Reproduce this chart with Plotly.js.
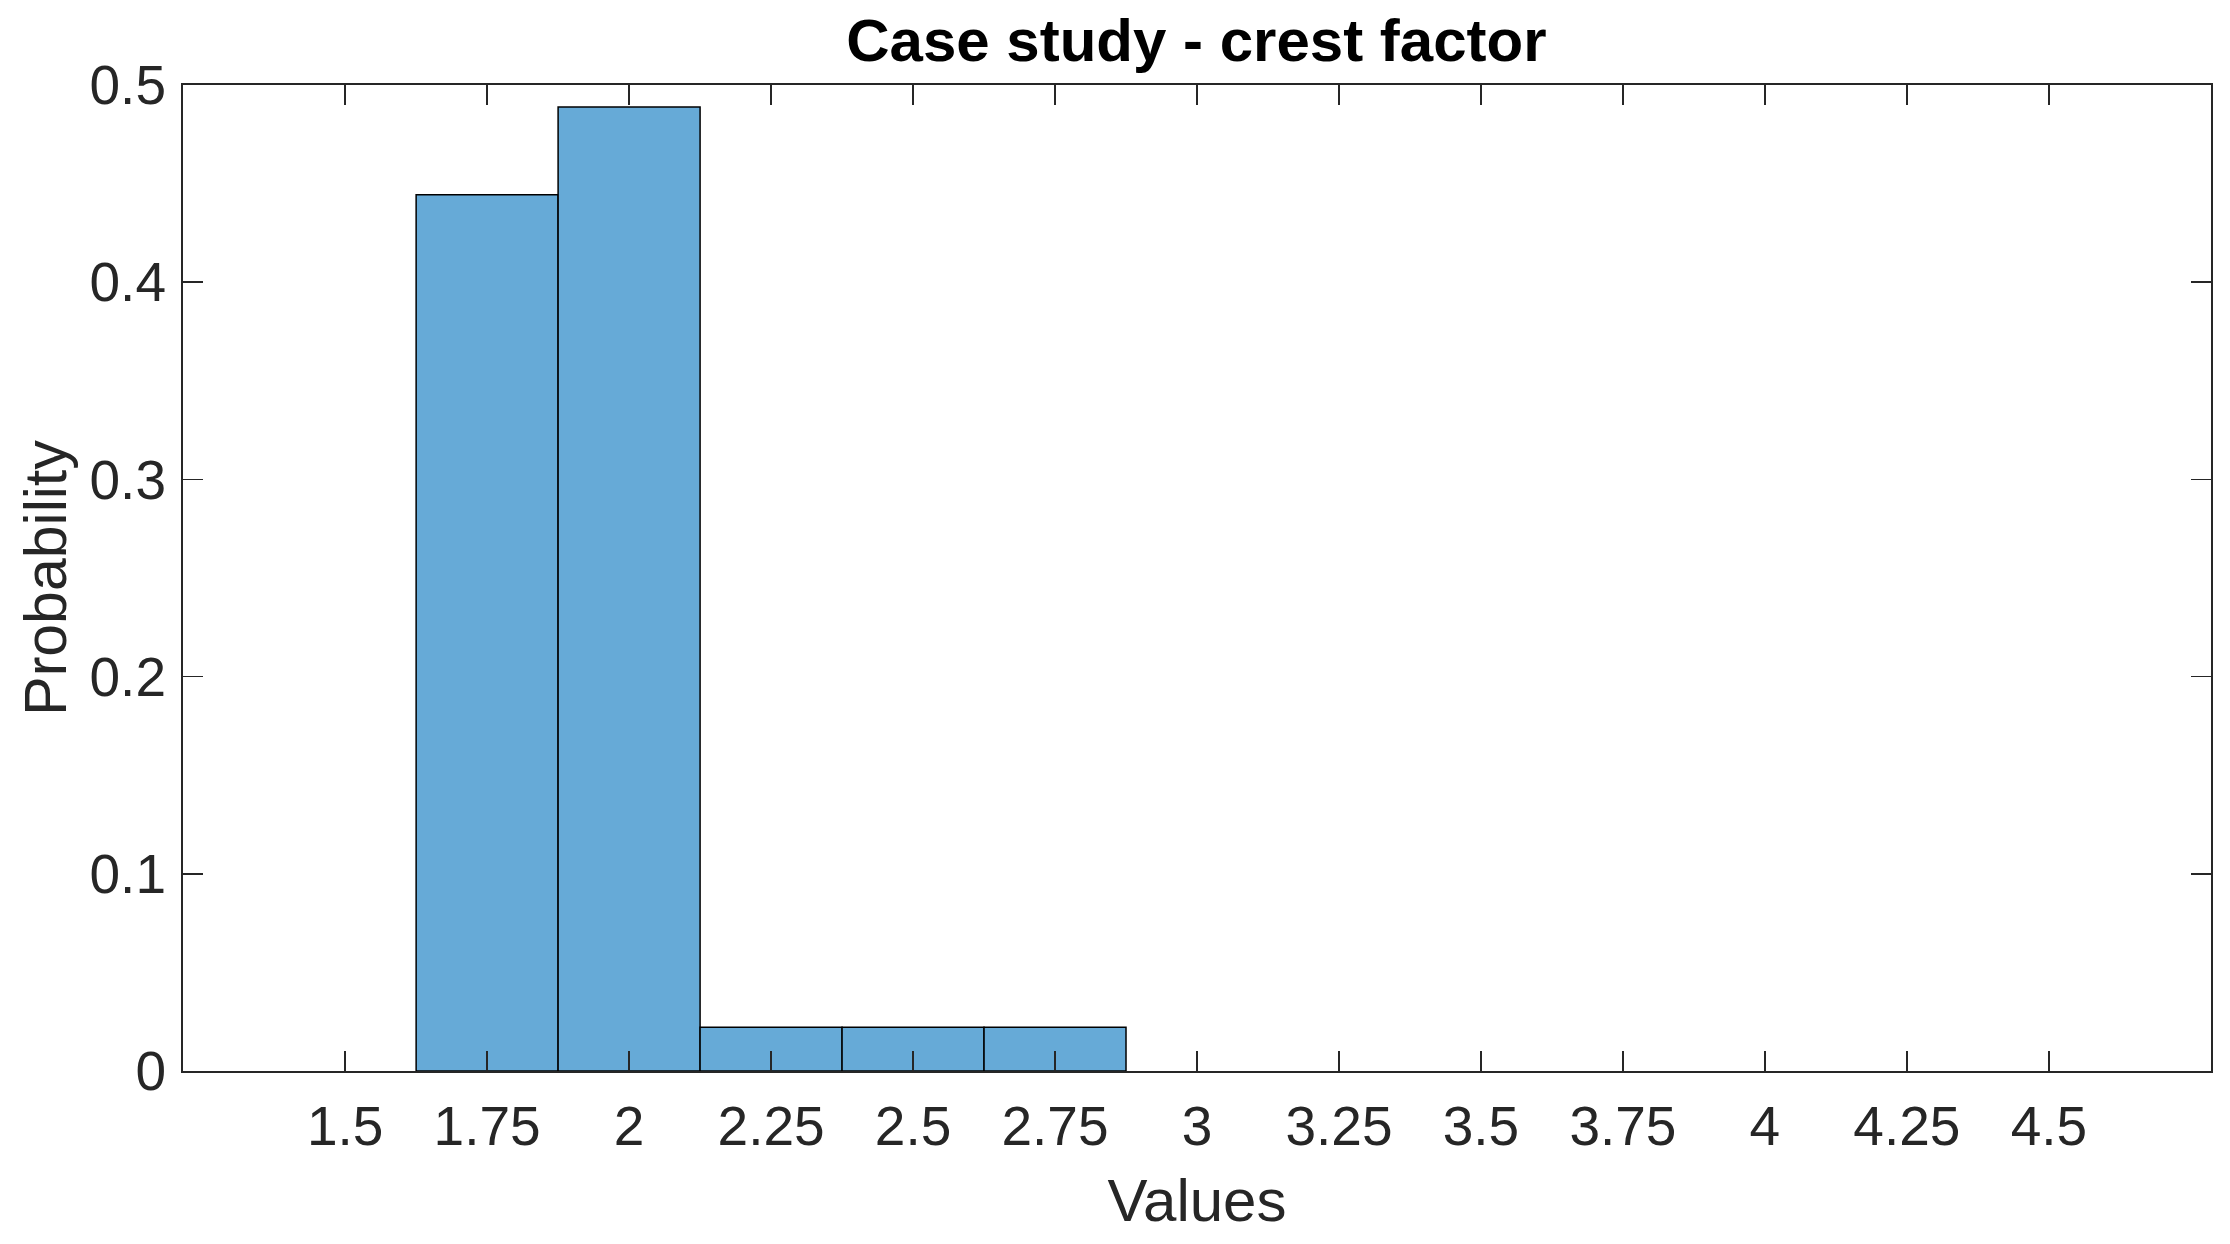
<!DOCTYPE html>
<html>
<head>
<meta charset="utf-8">
<script src="https://cdn.plot.ly/plotly-3.0.1.min.js"></script>
<style>html,body{margin:0;padding:0;background:#fff;}#chart{width:2230px;height:1244px;}</style>
</head>
<body>
<div id="chart"></div>
<script>
// Bin centres (bin width 0.25) and probabilities
const binCenters = [1.75, 2.0, 2.25, 2.5, 2.75];
const probabilities = [0.4444, 0.4889, 0.0222, 0.0222, 0.0222];
const binWidth = 0.25;
const xTickVals = [1.5, 1.75, 2, 2.25, 2.5, 2.75, 3, 3.25, 3.5, 3.75, 4, 4.25, 4.5];
const xTickText = ["1.5", "1.75", "2", "2.25", "2.5", "2.75", "3", "3.25", "3.5", "3.75", "4", "4.25", "4.5"];
const yTickVals = [0, 0.1, 0.2, 0.3, 0.4, 0.5];
const yTickText = ["0", "0.1", "0.2", "0.3", "0.4", "0.5"];

const axisColor = '#262626';
const fontFam = '"Liberation Sans", Arial, Helvetica, sans-serif';

const trace = {
  type: 'bar',
  x: binCenters,
  y: probabilities,
  width: binCenters.map(() => binWidth),
  marker: { color: 'rgb(102,170,215)', line: { color: '#000000', width: 1.5 } },
  hoverinfo: 'x+y'
};

const layout = {
  width: 2230,
  height: 1244,
  margin: { l: 183, r: 19, t: 85, b: 173, pad: 0 },
  paper_bgcolor: '#ffffff',
  plot_bgcolor: '#ffffff',
  showlegend: false,
  bargap: 0,
  title: {
    text: '<b>Case study - crest factor</b>',
    font: { family: fontFam, size: 60, color: '#000000' },
    x: 0.5365, xanchor: 'center',
    y: 1, yref: 'paper', yanchor: 'bottom', pad: { b: 24 }
  },
  xaxis: {
    range: [1.2145, 4.7855],
    tickmode: 'array',
    tickvals: xTickVals,
    ticktext: xTickText,
    ticks: 'inside',
    ticklen: 20,
    tickwidth: 1.5,
    tickcolor: axisColor,
    showline: true,
    linecolor: axisColor,
    linewidth: 2,
    mirror: 'ticks',
    showgrid: false,
    zeroline: false,
    ticklabelstandoff: 6,
    tickfont: { family: fontFam, size: 55, color: axisColor },
    title: { text: 'Values', font: { family: fontFam, size: 60, color: axisColor }, standoff: 23 }
  },
  yaxis: {
    range: [0, 0.5],
    tickmode: 'array',
    tickvals: yTickVals,
    ticktext: yTickText,
    ticks: 'inside',
    ticklen: 20,
    tickwidth: 1.5,
    tickcolor: axisColor,
    showline: true,
    linecolor: axisColor,
    linewidth: 2,
    mirror: 'ticks',
    showgrid: false,
    zeroline: false,
    ticklabelstandoff: 4,
    tickfont: { family: fontFam, size: 55, color: axisColor },
    title: { text: 'Probability', font: { family: fontFam, size: 59, color: axisColor }, standoff: 4 }
  }
};

Plotly.newPlot('chart', [trace], layout, { displayModeBar: false, staticPlot: true });
</script>
</body>
</html>
